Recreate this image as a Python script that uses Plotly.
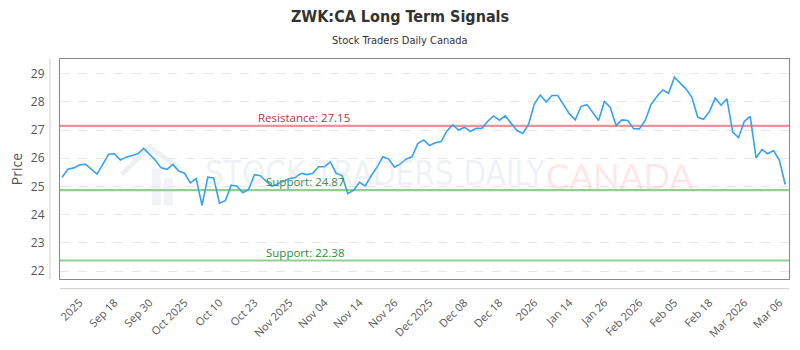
import plotly.graph_objects as go

# ---- data ----
prices = [25.33, 25.61, 25.66, 25.76, 25.79, 25.62, 25.44, 25.79, 26.14, 26.16,
          25.94, 26.04, 26.11, 26.16, 26.35, 26.14, 25.93, 25.66, 25.61, 25.78,
          25.55, 25.47, 25.13, 25.28, 24.33, 25.33, 25.30, 24.41, 24.50, 25.05,
          25.01, 24.78, 24.90, 25.42, 25.38, 25.19, 25.01, 25.10, 25.20, 25.28,
          25.32, 25.47, 25.42, 25.47, 25.70, 25.70, 25.87, 25.47, 25.39, 24.75,
          24.87, 25.15, 25.02, 25.38, 25.68, 26.05, 25.97, 25.68, 25.80, 25.97,
          26.05, 26.52, 26.65, 26.45, 26.55, 26.59, 26.97, 27.18, 27.00, 27.10,
          26.95, 27.06, 27.06, 27.31, 27.50, 27.35, 27.50, 27.25, 26.98, 26.88,
          27.21, 27.93, 28.24, 27.99, 28.22, 28.22, 27.91, 27.57, 27.36, 27.84,
          27.90, 27.61, 27.34, 28.01, 27.80, 27.16, 27.36, 27.34, 27.05, 27.04,
          27.34, 27.91, 28.19, 28.42, 28.30, 28.87, 28.66, 28.45, 28.16, 27.45,
          27.38, 27.65, 28.13, 27.88, 28.11, 26.93, 26.73, 27.31, 27.48, 26.01,
          26.31, 26.16, 26.27, 25.93, 25.07]
idx = list(range(len(prices)))

tick_labels = ["2025", "Sep 18", "Sep 30", "Oct 2025", "Oct 10", "Oct 23", "Nov 2025",
               "Nov 04", "Nov 14", "Nov 26", "Dec 2025", "Dec 08", "Dec 18", "2026",
               "Jan 14", "Jan 26", "Feb 2026", "Feb 05", "Feb 18", "Mar 2026", "Mar 06"]
tick_pos = list(range(3, 3 + 6 * len(tick_labels), 6))

resistance = 27.15
supports = [24.87, 22.38]

COND = "DejaVu Sans Condensed, DejaVu Sans, sans-serif"

fig = go.Figure()
fig.add_trace(go.Scatter(x=idx, y=prices, mode="lines",
                         line=dict(color="#35a2f0", width=1.6),
                         hoverinfo="skip", showlegend=False))

# level lines
fig.add_hline(y=resistance, line=dict(color="rgba(232,110,120,0.75)", width=2.2), layer="below")
for s in supports:
    fig.add_hline(y=s, line=dict(color="rgba(110,190,110,0.75)", width=2.2), layer="below")

fig.add_annotation(x=(256 - 60) / 730, xref="paper", y=resistance, yref="y",
                   text=f"Resistance: {resistance}", showarrow=False, xanchor="left",
                   yanchor="bottom", yshift=-1, font=dict(size=11.5, color="#b3343c", family="Open Sans"))
for s in supports:
    fig.add_annotation(x=(264 - 60) / 730, xref="paper", y=s, yref="y",
                       text=f"Support: {s}", showarrow=False, xanchor="left",
                       yanchor="bottom", yshift=-1, font=dict(size=11.5, color="#2e8b3a", family="Open Sans"))

def px(x):
    return (x - 60) / 730

def py(y):
    return (286 - y) / 227

# watermark
fig.add_annotation(x=px(203), xref="paper", y=py(177), yref="paper",
                   text="STOCK TRADERS DAILY", showarrow=False, xanchor="left", yanchor="middle",
                   font=dict(size=33, color="rgba(190,202,220,0.25)", family=COND))
fig.add_annotation(x=px(545), xref="paper", y=py(179), yref="paper",
                   text="CANADA", showarrow=False, xanchor="left", yanchor="middle",
                   font=dict(size=35, color="rgba(250,160,160,0.25)", family="Lato"))

shapes = []
shapes.append(dict(type="circle", xref="paper", yref="paper", x0=px(110), x1=px(192),
                   y0=py(216), y1=py(134), line=dict(color="rgba(190,200,220,0.28)", width=7),
                   fillcolor="rgba(220,225,235,0.10)", layer="below"))
for bx0, bx1, btop in [(128, 137, 190), (140, 149, 180), (152, 161, 172), (164, 173, 182)]:
    shapes.append(dict(type="rect", xref="paper", yref="paper", x0=px(bx0), x1=px(bx1),
                       y0=py(210), y1=py(btop), line=dict(width=0),
                       fillcolor="rgba(190,200,220,0.22)", layer="below"))
shapes.append(dict(type="path", xref="paper", yref="paper",
                   path=f"M {px(122)},{py(178)} L {px(150)},{py(150)} L {px(180)},{py(172)}",
                   line=dict(color="rgba(190,200,220,0.28)", width=5), layer="below"))
# detached axis lines
shapes.append(dict(type="line", xref="paper", yref="paper", x0=px(50), x1=px(50),
                   y0=0, y1=1, line=dict(color="#cccccc", width=1)))
shapes.append(dict(type="line", xref="paper", yref="paper", x0=0, x1=1,
                   y0=py(296), y1=py(296), line=dict(color="#cccccc", width=1)))

fig.update_layout(
    width=800, height=350,
    margin=dict(l=60, r=10, t=59, b=64),
    paper_bgcolor="white", plot_bgcolor="white",
    title=dict(text="<b>ZWK:CA Long Term Signals</b>", x=0.5, xanchor="center",
               y=1 - 16 / 350, yanchor="middle",
               font=dict(size=16, color="#333333", family=COND)),
    shapes=shapes,
    showlegend=False,
)
fig.add_annotation(x=px(400), xref="paper", y=py(40), yref="paper", text="Stock Traders Daily Canada",
                   showarrow=False, xanchor="center", yanchor="middle",
                   font=dict(size=11, color="#333333", family=COND))

fig.update_xaxes(range=[-0.35, 124.65], tickmode="array", tickvals=tick_pos, ticktext=tick_labels,
                 tickangle=-45, ticks="outside", ticklen=12, tickcolor="rgba(0,0,0,0)",
                 tickfont=dict(size=11, color="#555555", family="Open Sans"),
                 showgrid=False, zeroline=False, showline=True, mirror=True,
                 linecolor="#888888", linewidth=1)
fig.update_yaxes(range=[21.725, 29.515], tickmode="array", tickvals=list(range(22, 30)),
                 ticks="outside", ticklen=12, tickcolor="rgba(0,0,0,0)",
                 tickfont=dict(size=12, color="#555555", family="Open Sans"),
                 showgrid=True, gridcolor="#e6e6e6", griddash="dash", gridwidth=1,
                 zeroline=False, showline=True, mirror=True, linecolor="#888888", linewidth=1,
                 title=dict(text="Price", font=dict(size=14, color="#555555", family="Open Sans"),
                            standoff=4))

fig.write_html("out.html")
